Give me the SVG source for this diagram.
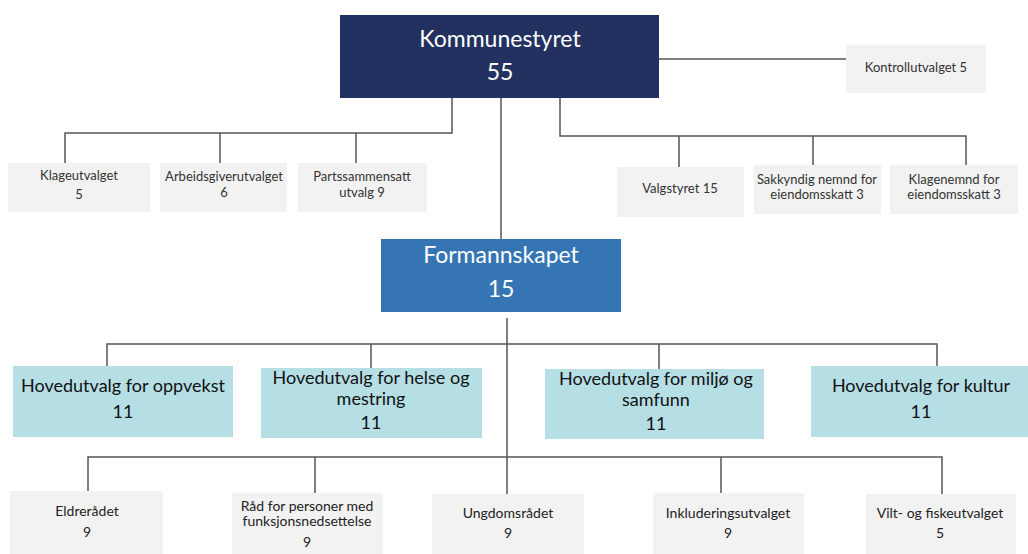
<svg xmlns="http://www.w3.org/2000/svg" width="1028" height="554" viewBox="0 0 1028 554">
<style>
.ln{stroke:#555;stroke-width:1.5;fill:none}
.g{fill:#f2f2f2}
.lb{fill:#b5dee5}
text{font-family:Lato,"Noto Sans","Liberation Sans",sans-serif;text-anchor:middle}
.s{font-size:13px;fill:#333}
.m{font-size:18px;fill:#111}
.b{font-size:14px;fill:#222}
.w{fill:#fff}
</style>
<rect width="1028" height="554" fill="#fff"/>
<g id="connectors">
<path class="ln" d="M452 98V133H65V163M220 133V163M356 133V163"/>
<path class="ln" d="M560 98V136H966V165M679 136V167M813 136V165"/>
<path class="ln" d="M650 59H847"/>
<path class="ln" d="M501 98V239"/>
<path class="ln" d="M507 318V502"/>
<path class="ln" d="M107 366V344H937V366M371 344V368M659 344V369"/>
<path class="ln" d="M88 491V457H942V494M315 457V493M721 457V493"/>
</g>
<g id="kommunestyret"><rect x="340" y="15" width="319" height="83" fill="#22315f"/>
<text x="500" y="47" class="w" font-size="23">Kommunestyret</text><text x="500" y="80" class="w" font-size="23">55</text></g>
<g id="kontrollutvalget"><rect class="g" x="846" y="45" width="140" height="48"/><text class="s" x="916" y="72">Kontrollutvalget 5</text></g>
<g id="klageutvalget"><rect class="g" x="8" y="163" width="142" height="49"/><text class="s" x="79" y="180">Klageutvalget</text><text class="s" x="79" y="199">5</text></g>
<g id="arbeidsgiverutvalget"><rect class="g" x="160" y="163" width="127" height="49"/><text class="s" x="224" y="181">Arbeidsgiverutvalget</text><text class="s" x="224" y="197">6</text></g>
<g id="partssammensatt"><rect class="g" x="298" y="163" width="129" height="49"/><text class="s" x="362" y="181">Partssammensatt</text><text class="s" x="362" y="197">utvalg 9</text></g>
<g id="valgstyret"><rect class="g" x="617" y="167" width="127" height="50"/><text class="s" x="680" y="193">Valgstyret 15</text></g>
<g id="sakkyndig"><rect class="g" x="754" y="165" width="127" height="49"/><text class="s" x="817" y="184">Sakkyndig nemnd for</text><text class="s" x="817" y="199">eiendomsskatt 3</text></g>
<g id="klagenemnd"><rect class="g" x="890" y="165" width="128" height="49"/><text class="s" x="954" y="184">Klagenemnd for</text><text class="s" x="954" y="199">eiendomsskatt 3</text></g>
<g id="formannskapet"><rect x="381" y="239" width="240" height="73" fill="#3675b4"/>
<text x="501" y="263" class="w" font-size="23">Formannskapet</text><text x="501" y="297" class="w" font-size="23">15</text></g>
<g id="oppvekst"><rect class="lb" x="13" y="366" width="220" height="71"/><text class="m" x="123" y="392">Hovedutvalg for oppvekst</text><text class="m" x="123" y="418">11</text></g>
<g id="helse"><rect class="lb" x="261" y="368" width="221" height="70"/><text class="m" x="371" y="384">Hovedutvalg for helse og</text><text class="m" x="371" y="405">mestring</text><text class="m" x="371" y="429">11</text></g>
<g id="miljo"><rect class="lb" x="545" y="369" width="219" height="70"/><text class="m" x="656" y="385">Hovedutvalg for miljø og</text><text class="m" x="656" y="406">samfunn</text><text class="m" x="656" y="430">11</text></g>
<g id="kultur"><rect class="lb" x="811" y="366" width="217" height="71"/><text class="m" x="921" y="392">Hovedutvalg for kultur</text><text class="m" x="921" y="418">11</text></g>
<g id="eldreradet"><rect class="g" x="10" y="491" width="153" height="63"/><text class="b" x="87" y="516">Eldrerådet</text><text class="b" x="87" y="537">9</text></g>
<g id="funksjon"><rect class="g" x="232" y="493" width="151" height="61"/><text class="b" x="307" y="511">Råd for personer med</text><text class="b" x="307" y="526">funksjonsnedsettelse</text><text class="b" x="307" y="547">9</text></g>
<g id="ungdomsradet"><rect class="g" x="432" y="494" width="152" height="60"/><text class="b" x="508" y="518">Ungdomsrådet</text><text class="b" x="508" y="538">9</text></g>
<g id="inkludering"><rect class="g" x="653" y="493" width="151" height="61"/><text class="b" x="728" y="518">Inkluderingsutvalget</text><text class="b" x="728" y="538">9</text></g>
<g id="vilt"><rect class="g" x="866" y="494" width="150" height="60"/><text class="b" x="940" y="518">Vilt- og fiskeutvalget</text><text class="b" x="940" y="538">5</text></g>
</svg>
